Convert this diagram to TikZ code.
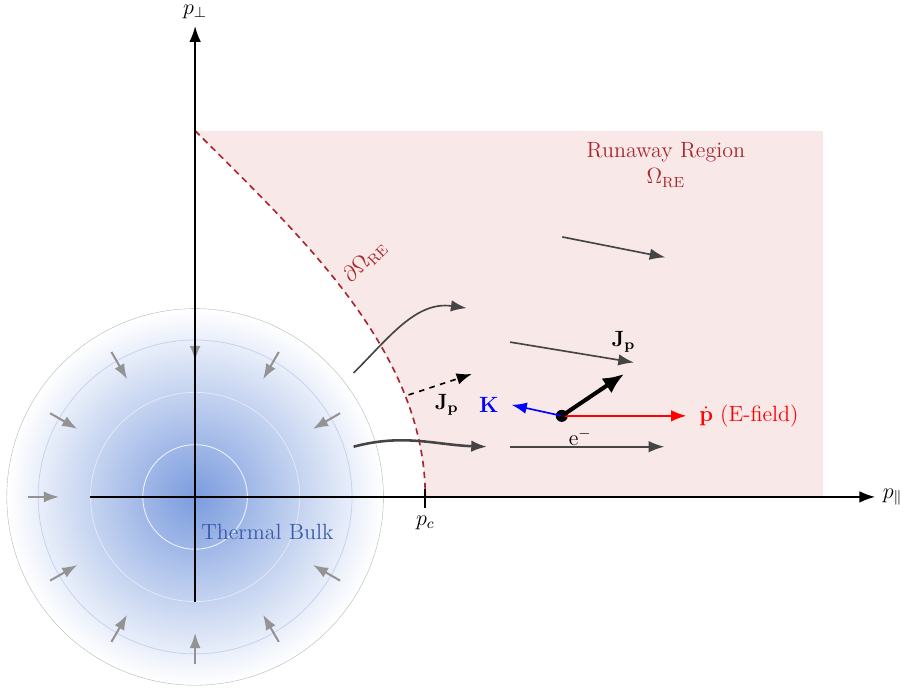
\documentclass[tikz,border=0pt,12pt]{standalone}
\usepackage{amsmath,amssymb}
\usepackage{tikz}
\usetikzlibrary{arrows.meta,positioning,calc}
\definecolor{bulkblue}{HTML}{7B9CDE}
\definecolor{bulktext}{HTML}{3A5BA8}
\definecolor{rered}{HTML}{A8282E}
\definecolor{repink}{HTML}{F9E8E8}
\definecolor{flowgray}{HTML}{454545}
\tikzset{axis/.style={-{Latex[length=3mm,width=2.2mm]},line width=0.8pt},flow/.style={-{Latex[length=3mm,width=2.2mm]},draw=flowgray,line width=0.9pt},relax/.style={-{Latex[length=2.9mm,width=2.1mm]},draw=gray!85,line width=1.1pt},force/.style={-{Latex[length=2.9mm,width=2.2mm]},line width=0.9pt},lbl/.style={inner sep=2pt}}
\begin{document}
\begin{tikzpicture}
\useasboundingbox (-3.73,-3.67) rectangle (13.59,9.50);
\coordinate (O) at (0,0);
\coordinate (top) at (0,7);
\coordinate (pc) at (4.4,0);
\fill[repink] (top) .. controls (2,5) and (4.4,2.8) .. (pc) -- (12,0) -- (12,7) -- cycle;
\draw[rered,dashed,line width=0.9pt,dash pattern=on 3.5pt off 2.5pt] (top) .. controls (2,5) and (4.4,2.8) .. (pc);
\node[text=rered,align=center] (rr) at (9,6.35) {Runaway Region\\$\Omega_{\mathrm{RE}}$};
\node[text=rered,rotate=45] (brd) at (3.25,4.5) {$\partial\Omega_{\mathrm{RE}}$};
\shade[inner color=bulkblue,outer color=white] (O) circle (3.6);
\draw[gray!60,line width=0.2pt] (O) circle (3.6);
\draw[bulkblue!45,line width=0.4pt] (O) circle (3);
\draw[bulkblue!20,line width=0.4pt] (O) circle (2);
\draw[white!85!bulkblue,line width=0.5pt] (O) circle (1);
\foreach \a in {30,60,...,330}{
\coordinate (ro\a) at (\a:3.2);
\coordinate (ri\a) at (\a:2.6);
\draw[relax] (ro\a) -- (ri\a);
}
\coordinate (xs) at (-2,0);
\coordinate (xe) at (13,0);
\coordinate (ys) at (0,-2);
\coordinate (ye) at (0,9);
\draw[axis] (xs) -- (xe);
\draw[axis] (ys) -- (ye);
\node[anchor=west] (xlab) at (xe) {$p_\parallel$};
\node[anchor=south] (ylab) at (ye) {$p_\perp$};
\coordinate (pct) at (4.4,0.15);
\coordinate (pcb) at (4.4,-0.22);
\draw[line width=0.9pt] (pct) -- (pcb);
\node[anchor=north] (pclab) at (pcb) {$p_c$};
\node[text=bulktext,anchor=west] (bulk) at (-0.03,-0.66) {Thermal Bulk};
\coordinate (a1) at (7.02,4.97);
\coordinate (b1) at (8.99,4.58);
\coordinate (a2) at (6.02,2.96);
\coordinate (b2) at (8.39,2.57);
\coordinate (a3) at (6.02,0.96);
\coordinate (b3) at (8.97,0.96);
\draw[flow] (a1) -- (b1);
\draw[flow] (a2) -- (b2);
\draw[flow] (a3) -- (b3);
\coordinate (c1) at (3.03,2.37);
\coordinate (d1) at (5.19,3.61);
\coordinate (c2) at (3.03,0.96);
\coordinate (d2) at (5.58,0.96);
\draw[flow] (c1) to[out=45,in=172] (d1);
\draw[flow,line width=1.4pt] (c2) to[out=15,in=178] (d2);
\coordinate (js) at (4.08,1.95);
\coordinate (je) at (5.29,2.35);
\draw[force,dashed] (js) -- (je);
\node (jlab1) at (4.81,1.76) {$\mathbf{J_p}$};
\node[circle,fill=black,inner sep=0pt,minimum size=2.3mm] (e) at (7.01,1.55) {};
\coordinate (ktip) at (6.05,1.76);
\coordinate (ptip) at (9.39,1.55);
\coordinate (jtip) at (8.2,2.35);
\draw[force,draw=red] (e.center) -- (ptip);
\draw[force,draw=blue] (e.center) -- (ktip);
\draw[-{Latex[length=4mm,width=3.4mm]},line width=2.2pt] (e.center) -- (jtip);
\node[text=blue,left=1mm of ktip] (klab) {$\mathbf{K}$};
\node[text=red,right=1mm of ptip] (plab) {$\dot{\mathbf{p}}$ (E-field)};
\node (jlab2) at (8.19,2.97) {$\mathbf{J_p}$};
\node (elab) at (7.36,1.15) {e$^-$};
\end{tikzpicture}
\end{document}
